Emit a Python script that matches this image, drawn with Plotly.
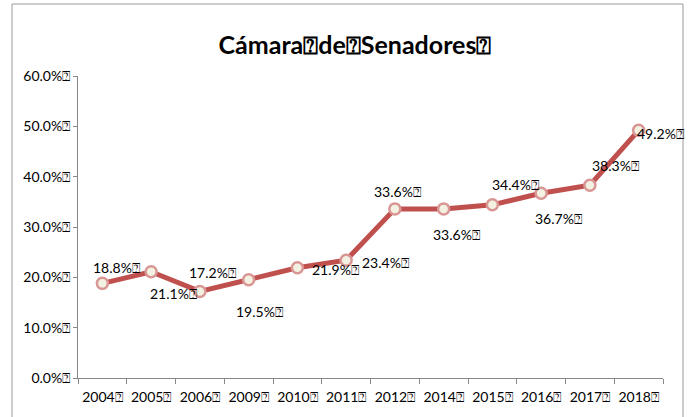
import plotly.graph_objects as go

years = ["2004", "2005", "2006", "2009", "2010", "2011", "2012", "2014", "2015", "2016", "2017", "2018"]
values = [18.8, 21.1, 17.2, 19.5, 21.9, 23.4, 33.6, 33.6, 34.4, 36.7, 38.3, 49.2]
ytick_vals = [0, 10, 20, 30, 40, 50, 60]
BOX = "\u2370"
tick_labels = [f"{v:.1f}%{BOX}" for v in ytick_vals]
year_labels = [f"{y}{BOX}" for y in years]
# label offsets (pixels) as placed in the original chart
label_dx = [14, 22, 13, 11, 38, 39, 3, 13, 23, 17, 26, 22]
label_dy = [16, -22, 19, -32, -2, -2, 17, -26, 20, -25, 20, -3]

FONT = "Lato"
fig = go.Figure()
fig.add_trace(go.Scatter(
    x=year_labels, y=values, mode="lines+markers",
    line=dict(color="#C0504D", width=5),
    marker=dict(size=11, color="#F3F2E2", line=dict(color="#D99694", width=2.5)),
    hoverinfo="skip", cliponaxis=False,
))
for i, (yl, v) in enumerate(zip(year_labels, values)):
    fig.add_annotation(x=yl, y=v, text=f"{v:.1f}%{BOX}", showarrow=False,
                       xshift=label_dx[i], yshift=label_dy[i],
                       font=dict(family=FONT, size=14, color="#000000"))

fig.add_shape(type="rect", xref="paper", yref="paper",
              x0=-0.1128, x1=1.0342, y0=-0.2, y1=1.2384,
              line=dict(color="#9A9A9A", width=1), layer="below")

fig.update_layout(
    width=691, height=417,
    margin=dict(l=78, r=28, t=76, b=39, autoexpand=False),
    paper_bgcolor="white", plot_bgcolor="white",
    showlegend=False,
    title=dict(text=f"<b>Cámara{BOX}de{BOX}Senadores{BOX}</b>", x=355/691, xanchor="center",
               y=1-45/417, yanchor="middle",
               font=dict(family=FONT, size=25, color="#000000")),
    font=dict(family=FONT, size=14, color="#000000"),
)
fig.update_xaxes(type="category", range=[-0.5, len(years) - 0.5],
                 tickson="boundaries", ticks="outside", ticklen=5,
                 tickcolor="#888888", showline=True, linecolor="#888888", linewidth=1,
                 showgrid=False, tickangle=0, automargin=False, ticklabelstandoff=6,
                 tickfont=dict(family=FONT, size=14))
fig.update_yaxes(range=[0, 60], tickvals=ytick_vals, ticktext=tick_labels,
                 ticks="outside", ticklen=4, tickcolor="#888888", showline=True,
                 linecolor="#888888", linewidth=1, showgrid=False, zeroline=False,
                 automargin=False, tickfont=dict(family=FONT, size=14))

fig.write_html("out.html")
